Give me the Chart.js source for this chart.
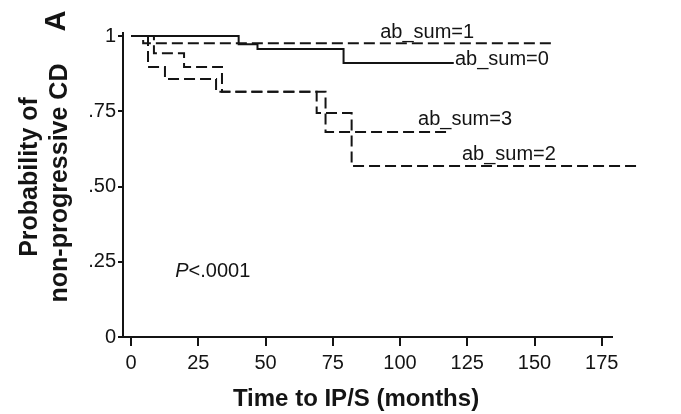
<!DOCTYPE html>
<html><head><meta charset="utf-8">
<script src="https://cdn.jsdelivr.net/npm/chart.js@4/dist/chart.umd.min.js"></script>
<style>html,body{margin:0;padding:0;background:#fff}#wrap{width:681px;height:414px;position:relative}</style>
</head><body><div id="wrap"><canvas id="c"></canvas></div>
<script>
// ---- data (Kaplan-Meier step curves) ----
const seriesNames = ['ab_sum=0', 'ab_sum=1', 'ab_sum=2', 'ab_sum=3'];
const time0 = [0, 40, 47, 79, 120];
const surv0 = [1, 0.973, 0.957, 0.91, 0.91];
const time1 = [0, 4.5, 157];
const surv1 = [1, 0.976, 0.976];
const time2 = [0, 6.3, 12.6, 31.6, 69, 82, 188];
const surv2 = [1, 0.897, 0.857, 0.815, 0.744, 0.568, 0.568];
const time3 = [0, 8.5, 19.7, 33.8, 72.3, 117.5];
const surv3 = [1, 0.943, 0.897, 0.815, 0.681, 0.681];
const xTickValues = [0, 25, 50, 75, 100, 125, 150, 175];
const xTickLabels = ['0', '25', '50', '75', '100', '125', '150', '175'];
const yTickValues = [0, 0.25, 0.5, 0.75, 1];
const yTickLabels = ['0', '.25', '.50', '.75', '1'];
const xTitle = 'Time to IP/S (months)';
const yTitleLines = ['Probability of', 'non-progressive CD'];
const panelLetter = 'A';
const pValueText = '<.0001';

const INK = '#141414';
const times = [time0, time1, time2, time3];
const survs = [surv0, surv1, surv2, surv3];
const dashes = [[], [11, 5], [11, 5], [11, 5]];

const datasets = seriesNames.map((name, i) => ({
  label: name,
  data: times[i].map((t, k) => ({ x: t, y: survs[i][k] })),
  stepped: 'before',
  showLine: true,
  borderColor: INK,
  borderWidth: 2,
  borderDash: dashes[i],
  pointRadius: 0,
  fill: false,
  clip: false
}));

// label anchors in data coordinates (months, probability at text baseline)
const curveLabels = [
  { text: seriesNames[1], x: 92.6, y: 0.993 },
  { text: seriesNames[0], x: 120.4, y: 0.904 },
  { text: seriesNames[3], x: 106.7, y: 0.704 },
  { text: seriesNames[2], x: 123.0, y: 0.588 }
];

const textPlugin = {
  id: 'texts',
  afterDraw(chart) {
    const ctx = chart.ctx;
    const xs = chart.scales.x, ys = chart.scales.y;
    ctx.save();
    ctx.fillStyle = INK;
    ctx.textBaseline = 'alphabetic';
    ctx.font = '20px "Liberation Sans", Arial, sans-serif';
    ctx.textAlign = 'left';
    curveLabels.forEach(l => {
      const px = xs.getPixelForValue(l.x), py = ys.getPixelForValue(l.y);
      ctx.fillStyle = '#fff';
      const w = ctx.measureText(l.text).width;
      ctx.fillRect(px - 1, py - 16, w + 2, 20);
      ctx.fillStyle = INK;
      ctx.fillText(l.text, px, py);
    });
    const ppx = xs.getPixelForValue(16.4), ppy = ys.getPixelForValue(0.199);
    ctx.font = 'italic 20px "Liberation Sans", Arial, sans-serif';
    ctx.fillText('P', ppx, ppy);
    const pw = ctx.measureText('P').width;
    ctx.font = '20px "Liberation Sans", Arial, sans-serif';
    ctx.fillText(pValueText, ppx + pw, ppy);
    ctx.font = 'bold 24px "Liberation Sans", Arial, sans-serif';
    ctx.textAlign = 'center';
    ctx.fillText(xTitle, 356, 406);
    ctx.font = 'bold 25px "Liberation Sans", Arial, sans-serif';
    const yc = (chart.chartArea.top + chart.chartArea.bottom) / 2;
    [[37, yc - 8], [67, yc - 2]].forEach((p, i) => {
      ctx.save();
      ctx.translate(p[0], p[1]);
      ctx.rotate(-Math.PI / 2);
      ctx.fillText(yTitleLines[i], 0, 0);
      ctx.restore();
    });
    ctx.save();
    ctx.font = 'bold 29px "Liberation Sans", Arial, sans-serif';
    ctx.translate(65, 21);
    ctx.rotate(-Math.PI / 2);
    ctx.fillText(panelLetter, 0, 0);
    ctx.restore();
    ctx.restore();
  }
};

new Chart(document.getElementById('c'), {
  type: 'scatter',
  data: { datasets },
  options: {
    responsive: true,
    maintainAspectRatio: false,
    devicePixelRatio: 1,
    animation: false,
    layout: { padding: { top: 33, right: 69, left: 0, bottom: 0 } },
    plugins: { legend: { display: false }, tooltip: { enabled: false } },
    scales: {
      x: {
        type: 'linear',
        min: -3,
        max: 178.8,
        afterFit: s => { s.height = 77; },
        afterBuildTicks: s => { s.ticks = xTickValues.map(v => ({ value: v })); },
        ticks: {
          autoSkip: false, maxRotation: 0, padding: 5, color: INK,
          font: { size: 20, family: '"Liberation Sans", Arial, sans-serif' },
          callback: v => xTickLabels[xTickValues.indexOf(v)]
        },
        grid: { drawOnChartArea: false, drawTicks: true, tickLength: 9, color: INK, lineWidth: 2 },
        border: { display: true, color: INK, width: 2 }
      },
      y: {
        type: 'linear',
        min: 0,
        max: 1.01,
        afterFit: s => { s.width = 123; },
        afterBuildTicks: s => { s.ticks = yTickValues.map(v => ({ value: v })); },
        ticks: {
          autoSkip: false, padding: 2, color: INK,
          font: { size: 20, family: '"Liberation Sans", Arial, sans-serif' },
          callback: v => yTickLabels[yTickValues.indexOf(v)]
        },
        grid: { drawOnChartArea: false, drawTicks: true, tickLength: 5, color: INK, lineWidth: 2 },
        border: { display: true, color: INK, width: 2 }
      }
    }
  },
  plugins: [textPlugin]
});
</script></body></html>
